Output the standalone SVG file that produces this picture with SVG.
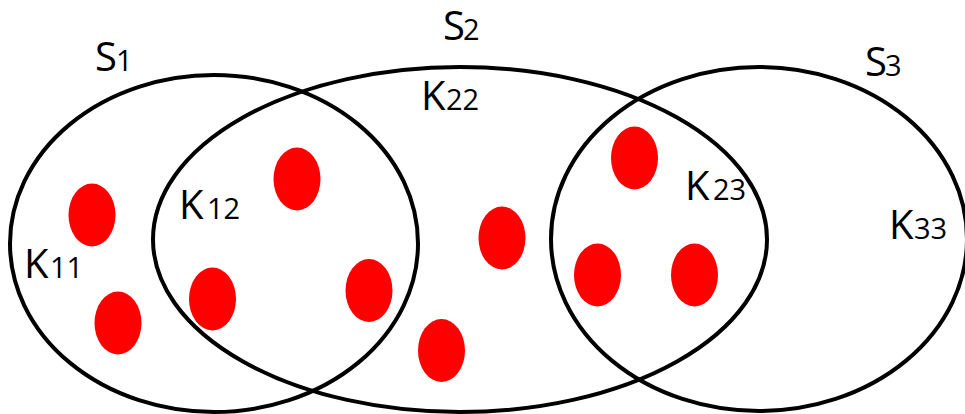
<svg xmlns="http://www.w3.org/2000/svg" width="965" height="414" viewBox="0 0 965 414">
<style>
.set{fill:none;stroke:#000;stroke-width:4}
.dot{fill:#ff0000;stroke:none}
.lbl{font-family:"Open Sans","Liberation Sans",sans-serif;font-size:40px;fill:#000}
.sub{font-size:29px}
</style>
<rect width="965" height="414" fill="#fff"/>
<g id="S1">
<ellipse class="set" cx="214" cy="243.5" rx="204" ry="168.5"/>
<text class="lbl" x="95" y="71">S<tspan class="sub" x="116">1</tspan></text>
<text class="lbl" x="24" y="278">K<tspan class="sub" x="50">11</tspan></text>
</g>
<g id="S2">
<ellipse class="set" cx="460" cy="239.5" rx="307" ry="172.5"/>
<text class="lbl" x="443" y="40">S<tspan class="sub" x="463">2</tspan></text>
<text class="lbl" x="421" y="110">K<tspan class="sub" x="446">22</tspan></text>
</g>
<g id="K12"><text class="lbl" x="179" y="219">K<tspan class="sub" x="207">12</tspan></text></g>
<g id="K23"><text class="lbl" x="685" y="200">K<tspan class="sub" x="713">23</tspan></text></g>
<g id="S3">
<ellipse class="set" cx="759" cy="239" rx="208" ry="172"/>
<text class="lbl" x="865" y="76">S<tspan class="sub" x="885">3</tspan></text>
<text class="lbl" x="889" y="239">K<tspan class="sub" x="914">33</tspan></text>
</g>
<g id="dots">
<g id="d1"><ellipse class="dot" cx="92" cy="215" rx="23.5" ry="31.5"/></g>
<g id="d2"><ellipse class="dot" cx="118" cy="323" rx="23.5" ry="31.5"/></g>
<g id="d3"><ellipse class="dot" cx="212.5" cy="299" rx="23.5" ry="31.5"/></g>
<g id="d4"><ellipse class="dot" cx="297" cy="179" rx="23.5" ry="31.5"/></g>
<g id="d5"><ellipse class="dot" cx="369" cy="290.5" rx="23.5" ry="31.5"/></g>
<g id="d6"><ellipse class="dot" cx="441.5" cy="350.5" rx="23.5" ry="31.5"/></g>
<g id="d7"><ellipse class="dot" cx="502" cy="238" rx="23.5" ry="31.5"/></g>
<g id="d8"><ellipse class="dot" cx="634.5" cy="158" rx="23.5" ry="31.5"/></g>
<g id="d9"><ellipse class="dot" cx="597.5" cy="275" rx="23.5" ry="31.5"/></g>
<g id="d10"><ellipse class="dot" cx="694.5" cy="275" rx="23.5" ry="31.5"/></g>
</g>
</svg>
